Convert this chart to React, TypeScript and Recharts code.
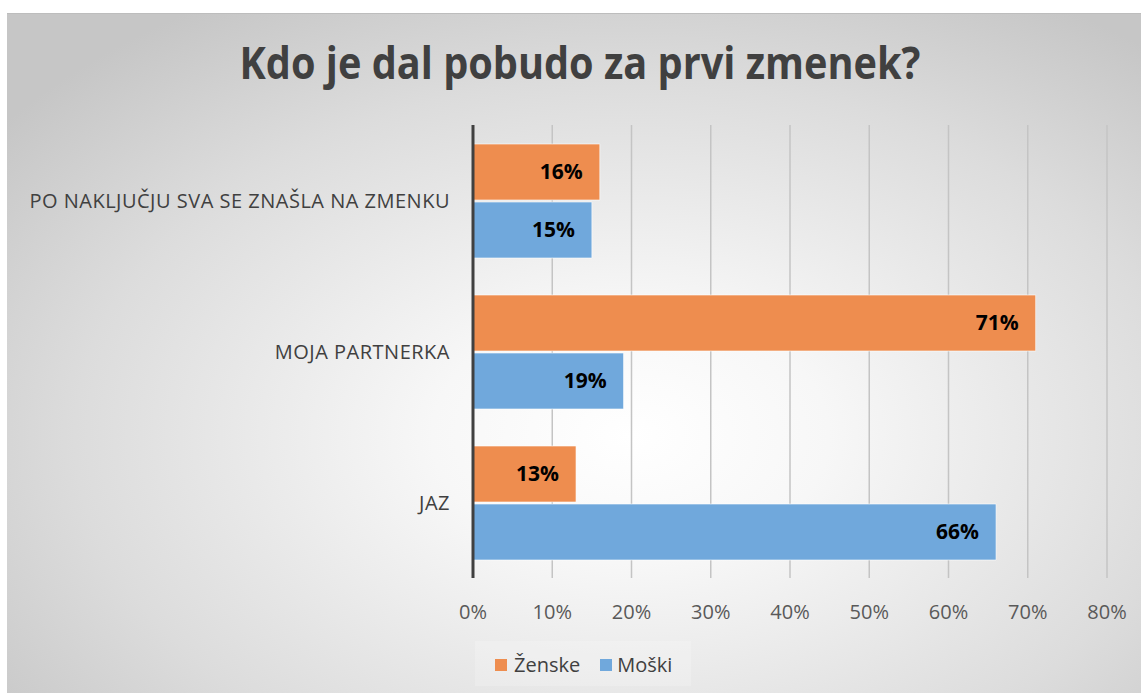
import { BarChart, Bar, XAxis, YAxis, CartesianGrid, LabelList } from "recharts";

const categories = ["PO NAKLJUČJU SVA SE ZNAŠLA NA ZMENKU", "MOJA PARTNERKA", "JAZ"];
const zenske = [16, 71, 13];
const moski = [15, 19, 66];
const xTicks = [0, 10, 20, 30, 40, 50, 60, 70, 80];

const data = categories.map((c, i) => ({ cat: c, Zenske: zenske[i], Moski: moski[i] }));

const ORANGE = "#EE8D4F";
const BLUE = "#70A8DC";
const FONT = "'Open Sans', sans-serif";

export default function App() {
  return (
    <div style={{ position: "absolute", left: 0, top: 0, width: 1141, height: 693, overflow: "hidden", fontFamily: FONT }}>
      <div
        style={{
          position: "absolute", left: 7, top: 13, width: 1134, height: 680,
          borderTop: "1.5px solid #bdbdbd",
          background: "radial-gradient(ellipse 70% 75% at 55% 62%, #ffffff 0%, #f7f7f7 25%, #dcdcdc 70%, #c6c6c6 100%)",
        }}
      />
      <svg style={{ position: "absolute", left: 0, top: 0 }} width={1141} height={120}>
        <text x={580} y={79} textAnchor="middle" fontFamily={FONT} fontWeight="bold" fontSize={44}
          fill="#404040" textLength={681} lengthAdjust="spacingAndGlyphs">
          Kdo je dal pobudo za prvi zmenek?
        </text>
      </svg>
      <div style={{ position: "absolute", left: 475, top: 641, width: 216, height: 45, background: "rgba(255,255,255,0.2)" }} />
      <div style={{ position: "absolute", left: 0, top: 0 }}>
        <BarChart width={1141} height={693} data={data} layout="vertical"
          margin={{ top: 125, right: 34, bottom: 85, left: 0 }} barSize={56} barGap={2}>
          <CartesianGrid horizontal={false} stroke="#c4c4c4" strokeWidth={1.5} />
          <XAxis type="number" domain={[0, 80]} ticks={xTicks} height={30} axisLine={false}
            tickLine={false} tickSize={6} tickMargin={21}
            tickFormatter={(v: number) => v + "%"}
            tick={{ fill: "#595959", fontSize: 20, fontFamily: FONT }} />
          <YAxis type="category" dataKey="cat" width={473} tickLine={false} tickSize={6} tickMargin={17}
            axisLine={{ stroke: "#404040", strokeWidth: 3 }}
            tick={{ fill: "#404040", fontSize: 20, fontFamily: FONT, letterSpacing: 0.5 }} />
          <Bar dataKey="Zenske" fill={ORANGE} stroke="rgba(255,255,255,0.6)" strokeWidth={1} isAnimationActive={false}>
            <LabelList dataKey="Zenske" position="insideRight" offset={17} formatter={(v: any) => v + "%"}
              fill="#000" fontWeight="bold" fontSize={21} fontFamily={FONT} />
          </Bar>
          <Bar dataKey="Moski" fill={BLUE} stroke="rgba(255,255,255,0.6)" strokeWidth={1} isAnimationActive={false}>
            <LabelList dataKey="Moski" position="insideRight" offset={17} formatter={(v: any) => v + "%"}
              fill="#000" fontWeight="bold" fontSize={21} fontFamily={FONT} />
          </Bar>
        </BarChart>
      </div>
      <div style={{ position: "absolute", left: 495, top: 651, display: "flex", alignItems: "center", fontSize: 20, color: "#404040", fontFamily: FONT }}>
        <span style={{ width: 12, height: 12, background: ORANGE, marginRight: 7 }} />
        <span style={{ marginRight: 20 }}>Ženske</span>
        <span style={{ width: 12, height: 12, background: BLUE, marginRight: 5 }} />
        <span>Moški</span>
      </div>
    </div>
  );
}
